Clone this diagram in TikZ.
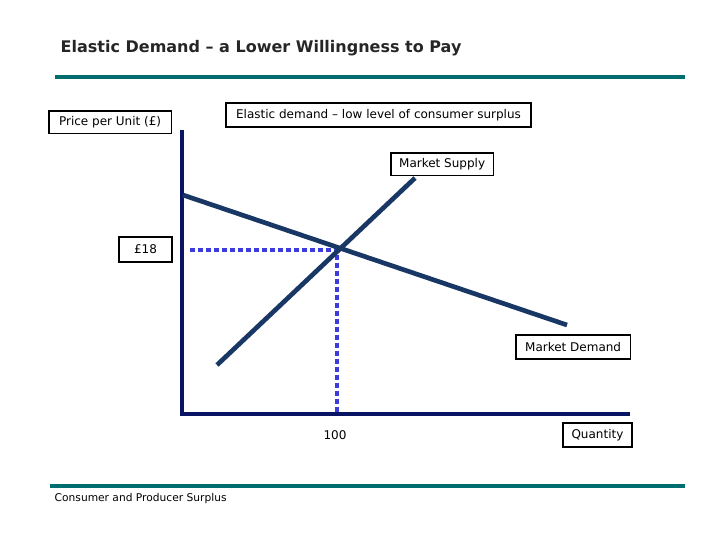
\documentclass[tikz,border=0pt]{standalone}
\usepackage{fontspec}
\setmainfont{DejaVu Sans}
\definecolor{teal1}{RGB}{0,110,110}
\definecolor{navy1}{RGB}{10,20,100}
\definecolor{line1}{RGB}{25,55,100}
\definecolor{dot1}{RGB}{60,60,220}
\begin{document}
\begin{tikzpicture}[x=0.75pt,y=-0.75pt,
  lbl/.style={draw=black,line width=1.2pt,fill=white,inner sep=2.5pt,font=\fontsize{9}{11}\selectfont,anchor=north west},
  ]
\useasboundingbox (0,0) rectangle (720,540);
\node[anchor=west,font=\fontsize{12}{14}\selectfont\bfseries,text=black!85] (title) at (56,48) {Elastic Demand – a Lower Willingness to Pay};
\draw[teal1,line width=3.5pt] (55,77) coordinate (t1) -- (685,77) coordinate (t2);
\draw[teal1,line width=2.5pt] (50,486) coordinate (b1) -- (685,486) coordinate (b2);
\node[anchor=west,font=\fontsize{8}{10}\selectfont] (foot) at (50,499) {Consumer and Producer Surplus};
% axes
\coordinate (o) at (182,414);
\coordinate (ytop) at (182,130);
\coordinate (xend) at (630,414);
\draw[navy1,line width=3pt] (ytop) -- (o) -- (xend);
% dotted
\coordinate (eq) at (337,250);
\draw[dot1,line width=3.5pt,dash pattern=on 3.5pt off 2.5pt] (190,250) coordinate (dl) -- (eq) -- (337,412) coordinate (db);
% demand and supply
\draw[line1,line width=3.5pt] (183,195) coordinate (d1) -- (567,325) coordinate (d2);
\draw[line1,line width=3.5pt] (217,365) coordinate (s1) -- (415,178) coordinate (s2);
% labels
\node[lbl,minimum width=92pt,minimum height=17pt] (pp) at (48,110) {Price per Unit (£)};
\node[lbl,minimum width=229pt,minimum height=18pt] (ed) at (225,102) {Elastic demand – low level of consumer surplus};
\node[lbl,minimum width=77pt,minimum height=17pt] (ms) at (390,152) {Market Supply};
\node[lbl,minimum width=40pt,minimum height=19pt] (p18) at (118,236) {£18};
\node[lbl,minimum width=86pt,minimum height=18pt] (md) at (515,334) {Market Demand};
\node[anchor=center,font=\fontsize{9}{11}\selectfont] (q100) at (335,435) {100};
\node[lbl,minimum width=52pt,minimum height=18pt] (qt) at (562,422) {Quantity};
\end{tikzpicture}
\end{document}
